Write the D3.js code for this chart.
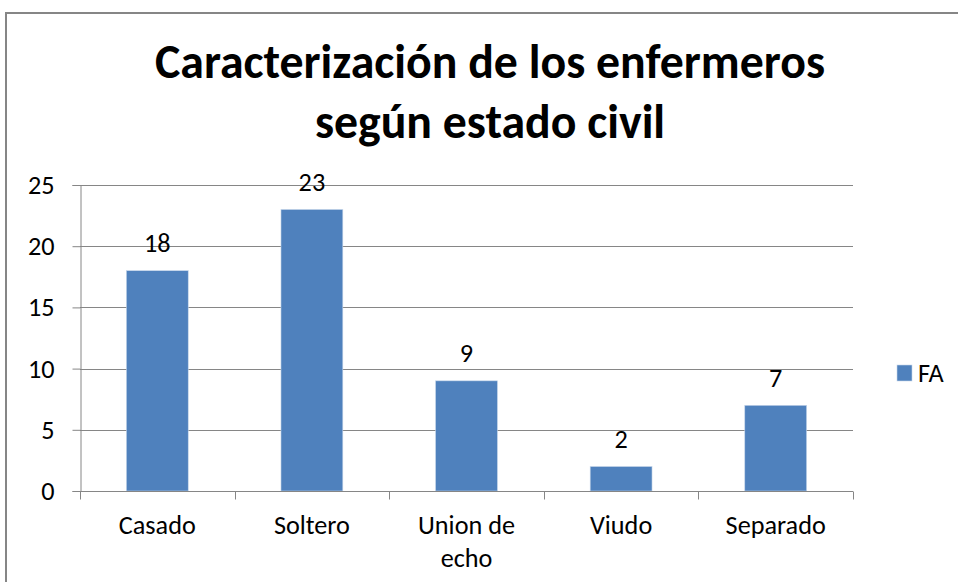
<!DOCTYPE html>
<html><head><meta charset="utf-8">
<script src="https://cdn.jsdelivr.net/npm/d3@7"></script>
<style>
html,body{margin:0;padding:0;background:#fff;}
svg{display:block;}
text{font-family:Carlito, Calibri, Lato, "Open Sans", sans-serif;fill:#000;}
</style></head>
<body>
<svg id="chart" width="958" height="582"></svg>
<script>
const titleLines = ["Caracterización de los enfermeros", "según estado civil"];
const categories = [["Casado"], ["Soltero"], ["Union de", "echo"], ["Viudo"], ["Separado"]];
const seriesName = "FA";
const values = [18, 23, 9, 2, 7];
const yTicks = [0, 5, 10, 15, 20, 25];

const svg = d3.select("#chart");
const gray = "#868686";
const barColor = "#4F81BD";

// chart border
svg.append("rect").attr("x", 6).attr("y", 13).attr("width", 1000).attr("height", 600)
  .attr("fill", "#fff").attr("stroke", gray).attr("stroke-width", 2);

function fitSize(str, weight, targetWidth) {
  const t = svg.append("text").attr("font-size", 100).attr("font-weight", weight).text(str);
  const w = t.node().getComputedTextLength();
  t.remove();
  return 100 * targetWidth / w;
}
const titleSize = fitSize(titleLines[0], "bold", 670);
const labelSize = fitSize("Casado", "normal", 77);
const titleStretch = Math.max(1, Math.min(1.2, 31 / (0.644 * titleSize)));

const plotLeft = 80, plotRight = 853, plotTop = 185, plotBottom = 491;
const x = d3.scaleBand().domain(d3.range(values.length)).range([plotLeft, plotRight]).padding(0);
const y = d3.scaleLinear().domain([0, 25]).range([plotBottom, plotTop]);

// title
const titleBaselines = [78, 137.5];
svg.append("g").selectAll("text").data(titleLines).join("text")
  .attr("transform", (d, i) => `translate(490,${titleBaselines[i]}) scale(1,${titleStretch})`)
  .attr("text-anchor", "middle").attr("font-weight", "bold")
  .attr("font-size", titleSize).text(d => d);

// gridlines
svg.append("g").selectAll("line").data(yTicks.filter(d => d > 0)).join("line")
  .attr("x1", plotLeft).attr("x2", plotRight)
  .attr("y1", d => Math.round(y(d)) + 0.5).attr("y2", d => Math.round(y(d)) + 0.5)
  .attr("stroke", gray).attr("stroke-width", 1);

// y axis
const yAxis = d3.axisLeft(y).tickValues(yTicks).tickSize(8).tickPadding(18);
const gy = svg.append("g").attr("transform", `translate(${plotLeft + 0.5},0)`).call(yAxis);
gy.select(".domain").attr("stroke", gray);
gy.selectAll(".tick line").attr("stroke", gray);
gy.selectAll(".tick text").attr("font-size", labelSize).attr("fill", "#111")
  .attr("font-family", null);

// bars
const barW = x.bandwidth() * 0.4;
svg.append("g").selectAll("rect").data(values).join("rect")
  .attr("x", (d, i) => x(i) + (x.bandwidth() - barW) / 2)
  .attr("y", d => y(d)).attr("width", barW).attr("height", d => plotBottom - y(d))
  .attr("fill", barColor).attr("stroke", "#c6d6ea").attr("stroke-width", 0.6);

// data labels
svg.append("g").selectAll("text").data(values).join("text")
  .attr("x", (d, i) => x(i) + x.bandwidth() / 2)
  .attr("y", d => y(d) - 18.5)
  .attr("text-anchor", "middle").attr("font-size", labelSize).attr("fill", "#111").text(d => d);

// x axis
const gx = svg.append("g").attr("transform", `translate(0,${plotBottom + 0.5})`);
gx.append("line").attr("x1", plotLeft).attr("x2", plotRight).attr("stroke", gray);
const bounds = d3.range(values.length + 1).map(i => i < values.length ? x(i) : plotRight);
gx.selectAll("line.tk").data(bounds).join("line").attr("class", "tk")
  .attr("x1", d => Math.round(d) + 0.5).attr("x2", d => Math.round(d) + 0.5)
  .attr("y1", 0).attr("y2", 8).attr("stroke", gray);

// category labels
const cat = svg.append("g").selectAll("text").data(categories).join("text")
  .attr("text-anchor", "middle").attr("font-size", labelSize).attr("fill", "#111")
  .attr("x", (d, i) => x(i) + x.bandwidth() / 2).attr("y", 534);
cat.selectAll("tspan").data(d => d).join("tspan")
  .attr("x", function () { return this.parentNode.getAttribute("x"); })
  .attr("dy", (d, i) => i === 0 ? 0 : 33).text(d => d);

// legend
svg.append("rect").attr("x", 897).attr("y", 365).attr("width", 15).attr("height", 16)
  .attr("fill", barColor).attr("stroke", "#c6d6ea").attr("stroke-width", 0.6);
svg.append("text").attr("x", 918).attr("y", 382).attr("font-size", labelSize).attr("fill", "#111").text(seriesName);
</script>
</body></html>
